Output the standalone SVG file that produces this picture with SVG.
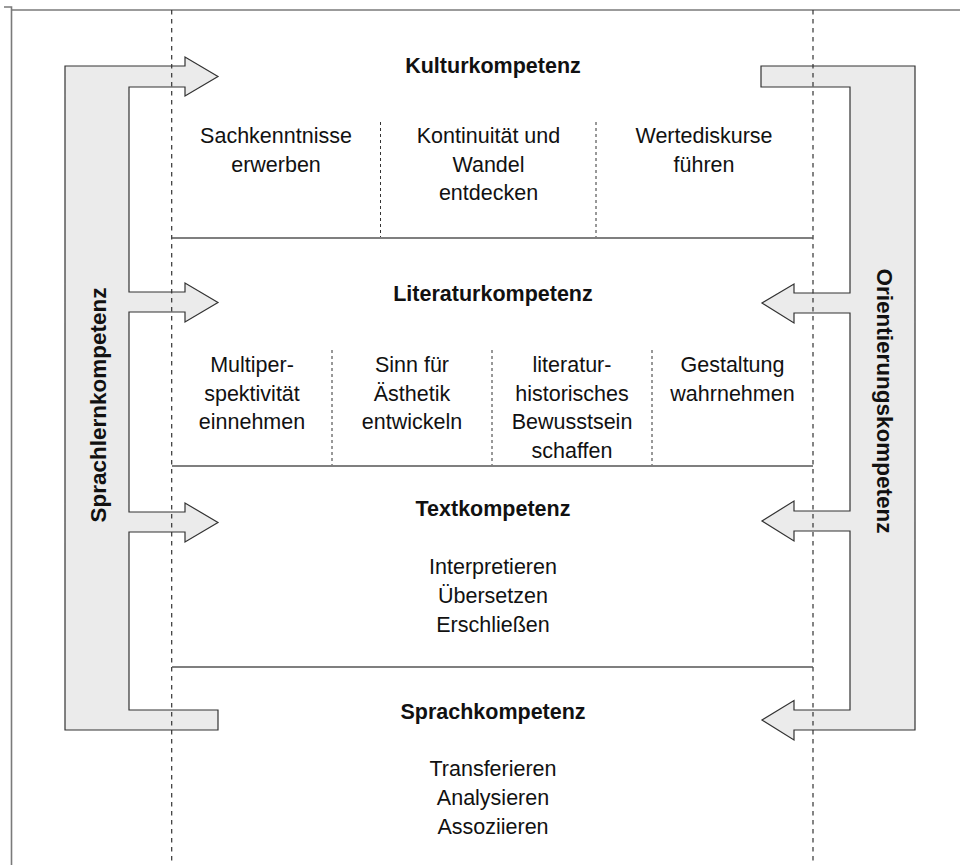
<svg xmlns="http://www.w3.org/2000/svg" width="960" height="865" viewBox="0 0 960 865">
<style>
.frame{stroke:#7a7a7a;stroke-width:1.6;fill:none}
.guide{stroke:#333;stroke-width:1.2;stroke-dasharray:4.5 4.5;fill:none}
.div{stroke:#333;stroke-width:1;stroke-dasharray:3 3;fill:none}
.sep{stroke:#555;stroke-width:1.6;fill:none}
.shape{fill:#ebebeb;stroke:#333;stroke-width:1.2;stroke-linejoin:miter}
text{font-family:"Liberation Sans",Arial,sans-serif;fill:#111;text-anchor:middle}
.t{font-size:21.5px}
.h{font-size:21.5px;font-weight:bold}
.v{font-size:22.5px;font-weight:bold}
</style>
<rect width="960" height="865" fill="#fff"/>
<g id="frame">
<line class="frame" x1="11" y1="10" x2="960" y2="10"/>
<line class="frame" x1="11.5" y1="10" x2="11.5" y2="865"/>
<polyline class="frame" points="4,7 11.5,7 11.5,10" stroke-width="1"/>
</g>
<g id="sprachlernkompetenz">
<polygon class="shape" points="65,66 185,66 185,57 218,76.5 185,96 185,87 129,87 129,292 185,292 185,283 218,302.5 185,322 185,312 129,312 129,512 185,512 185,503 218,522.5 185,542 185,532 129,532 129,710 218,710 218,730 65,730"/>
<text class="v" transform="translate(106,405) rotate(-90)">Sprachlernkompetenz</text>
</g>
<g id="orientierungskompetenz">
<polygon class="shape" points="761,66 915,66 915,730 794,730 794,740 762,720 794,700.5 794,710 850,710 850,531 794,531 794,541 762,521 794,501 794,511 850,511 850,313 794,313 794,323 762,303 794,284 794,293 850,293 850,87 761,87"/>
<text class="v" transform="translate(877,401) rotate(90)">Orientierungskompetenz</text>
</g>
<g id="connectors">
<line class="guide" x1="171.7" y1="10" x2="171.7" y2="865"/>
<line class="guide" x1="813" y1="10" x2="813" y2="865"/>
<line class="sep" x1="172" y1="238" x2="813" y2="238"/>
<line class="sep" x1="172" y1="466" x2="813" y2="466"/>
<line class="sep" x1="172" y1="667" x2="813" y2="667"/>
<line class="div" x1="380.5" y1="122" x2="380.5" y2="237"/>
<line class="div" x1="596" y1="122" x2="596" y2="237"/>
<line class="div" x1="332" y1="350" x2="332" y2="465"/>
<line class="div" x1="492" y1="350" x2="492" y2="465"/>
<line class="div" x1="652" y1="350" x2="652" y2="465"/>
</g>
<g id="kulturkompetenz">
<text class="h" x="493" y="72.7">Kulturkompetenz</text>
<text class="t" x="276" y="143.3">Sachkenntnisse</text>
<text class="t" x="276" y="171.7">erwerben</text>
<text class="t" x="488.5" y="143.3">Kontinuität und</text>
<text class="t" x="488.5" y="171.7">Wandel</text>
<text class="t" x="488.5" y="200.1">entdecken</text>
<text class="t" x="704" y="143.3">Wertediskurse</text>
<text class="t" x="704" y="171.7">führen</text>
</g>
<g id="literaturkompetenz">
<text class="h" x="493" y="301">Literaturkompetenz</text>
<text class="t" x="252" y="372">Multiper-</text>
<text class="t" x="252" y="400.5">spektivität</text>
<text class="t" x="252" y="429">einnehmen</text>
<text class="t" x="412" y="372">Sinn für</text>
<text class="t" x="412" y="400.5">Ästhetik</text>
<text class="t" x="412" y="429">entwickeln</text>
<text class="t" x="572" y="372">literatur-</text>
<text class="t" x="572" y="400.5">historisches</text>
<text class="t" x="572" y="429">Bewusstsein</text>
<text class="t" x="572" y="457.5">schaffen</text>
<text class="t" x="732.5" y="372">Gestaltung</text>
<text class="t" x="732.5" y="400.5">wahrnehmen</text>
</g>
<g id="textkompetenz">
<text class="h" x="493" y="516">Textkompetenz</text>
<text class="t" x="493" y="574">Interpretieren</text>
<text class="t" x="493" y="603">Übersetzen</text>
<text class="t" x="493" y="632">Erschließen</text>
</g>
<g id="sprachkompetenz">
<text class="h" x="493" y="719">Sprachkompetenz</text>
<text class="t" x="493" y="776">Transferieren</text>
<text class="t" x="493" y="805">Analysieren</text>
<text class="t" x="493" y="834">Assoziieren</text>
</g>
</svg>
